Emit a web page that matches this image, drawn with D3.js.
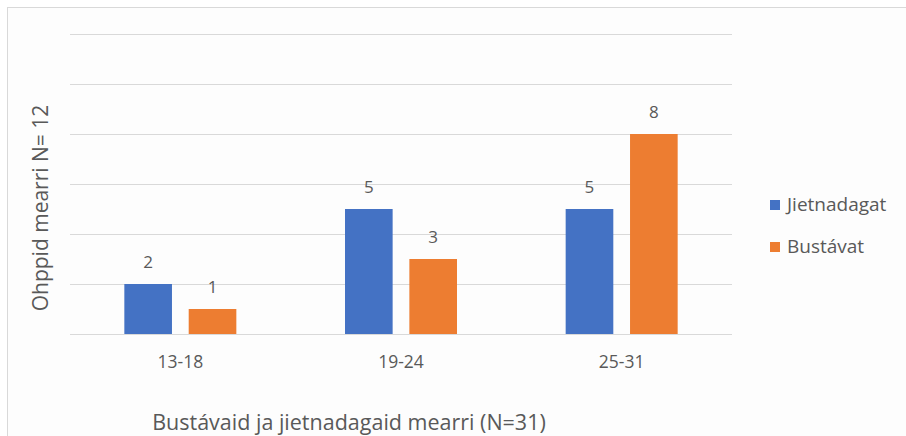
<!DOCTYPE html>
<html>
<head>
<meta charset="utf-8">
<script src="https://cdn.jsdelivr.net/npm/d3@7"></script>
<style>
  body { margin: 0; background: #ffffff; }
  svg text { font-family: "Open Sans", sans-serif; fill: #595959; }
</style>
</head>
<body>
<div id="chart"></div>
<script>
const FRAME_WIDTH = 906;
const FRAME_HEIGHT = 436;
const MARGINS = {left: 70, right: 174, top: 34, bottom: 102};

const VIS_WIDTH = FRAME_WIDTH - MARGINS.left - MARGINS.right;
const VIS_HEIGHT = FRAME_HEIGHT - MARGINS.top - MARGINS.bottom;

// data
const categories = ["13-18", "19-24", "25-31"];
const seriesNames = ["Jietnadagat", "Bustávat"];
const jietnadagat = [2, 5, 5];
const bustavat = [1, 3, 8];
const yTicks = [0, 2, 4, 6, 8, 10, 12];
const colors = ["#4472c4", "#ed7d31"];

const FRAME = d3.select("#chart")
  .append("svg")
    .attr("width", FRAME_WIDTH)
    .attr("height", FRAME_HEIGHT);

FRAME.append("rect")
  .attr("x", 7.5).attr("y", 7.5)
  .attr("width", FRAME_WIDTH).attr("height", FRAME_HEIGHT)
  .attr("fill", "#fdfdfd")
  .attr("stroke", "#d9d9d9");

const X_SCALE = d3.scaleBand()
  .domain(categories)
  .range([0, VIS_WIDTH]);

const X_INNER = d3.scaleBand()
  .domain(seriesNames)
  .range([X_SCALE.bandwidth() / 2 - 56, X_SCALE.bandwidth() / 2 + 56])
  .paddingInner(0.26);

const Y_SCALE = d3.scaleLinear()
  .domain([0, 12])
  .range([VIS_HEIGHT, 0]);

const g = FRAME.append("g")
  .attr("transform", "translate(" + MARGINS.left + "," + MARGINS.top + ")");

g.selectAll(".grid")
  .data(yTicks)
  .enter()
  .append("line")
    .attr("x1", 0).attr("x2", VIS_WIDTH)
    .attr("y1", (d) => Math.round(Y_SCALE(d)) + 0.5)
    .attr("y2", (d) => Math.round(Y_SCALE(d)) + 0.5)
    .attr("stroke", "#d9d9d9");

const series = [jietnadagat, bustavat];
series.forEach((vals, i) => {
  const grp = g.append("g");
  grp.selectAll("rect")
    .data(vals)
    .enter()
    .append("rect")
      .attr("x", (d, j) => X_SCALE(categories[j]) + X_INNER(seriesNames[i]))
      .attr("y", (d) => Y_SCALE(d))
      .attr("width", X_INNER.bandwidth())
      .attr("height", (d) => VIS_HEIGHT - Y_SCALE(d))
      .attr("fill", colors[i]);
  grp.selectAll("text")
    .data(vals)
    .enter()
    .append("text")
      .attr("x", (d, j) => X_SCALE(categories[j]) + X_INNER(seriesNames[i]) + X_INNER.bandwidth() / 2)
      .attr("y", (d) => Y_SCALE(d) - 16)
      .attr("text-anchor", "middle")
      .attr("font-size", "17px")
      .text((d) => d);
});

// x axis labels
const xAxis = g.append("g")
  .attr("transform", "translate(0," + VIS_HEIGHT + ")")
  .call(d3.axisBottom(X_SCALE).tickSize(0).tickPadding(0));
xAxis.select(".domain").remove();
xAxis.selectAll("text")
  .attr("dy", null)
  .attr("y", 34)
  .attr("font-size", "17.5px")
  .attr("font-family", "Open Sans, sans-serif")
  .attr("fill", "#595959");

// axis titles
FRAME.append("text")
  .attr("transform", "translate(48,208) rotate(-90)")
  .attr("text-anchor", "middle")
  .attr("font-size", "21px")
  .text("Ohppid mearri N= 12");

FRAME.append("text")
  .attr("x", 349).attr("y", 430)
  .attr("text-anchor", "middle")
  .attr("font-size", "21.5px")
  .text("Bustávaid ja jietnadagaid mearri (N=31)");

// legend
const legend = FRAME.selectAll(".legend")
  .data(seriesNames)
  .enter()
  .append("g")
    .attr("transform", (d, i) => "translate(770," + (200 + i * 42) + ")");
legend.append("rect")
  .attr("width", 10).attr("height", 10)
  .attr("fill", (d, i) => colors[i]);
legend.append("text")
  .attr("x", 17).attr("y", 11)
  .attr("font-size", "19px")
  .text((d) => d);
</script>
</body>
</html>
